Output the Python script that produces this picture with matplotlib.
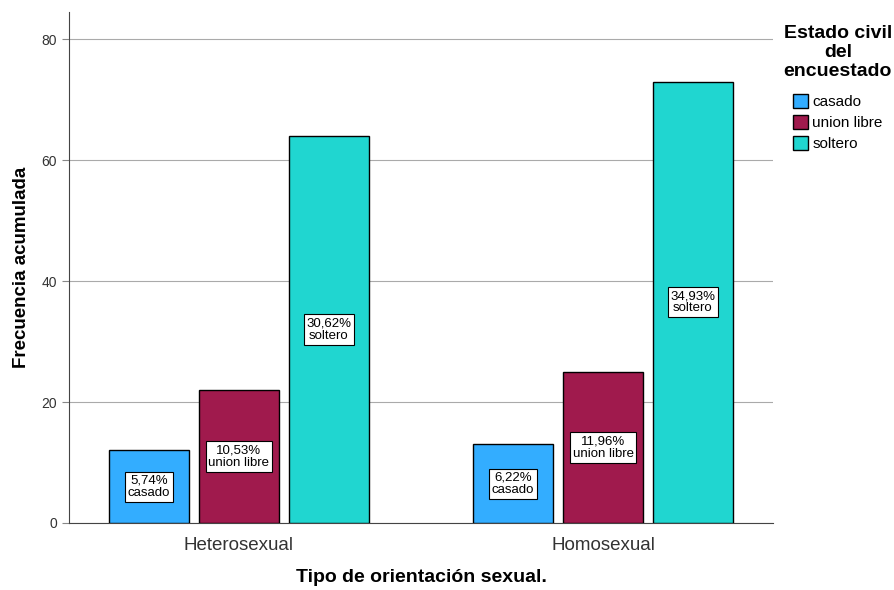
import numpy as np
import matplotlib.pyplot as plt

plt.rcParams["font.family"] = ["Liberation Sans", "DejaVu Sans"]

groups = ["Heterosexual", "Homosexual"]
series = ["casado", "union libre", "soltero"]
casado = [12, 13]
union_libre = [22, 25]
soltero = [64, 73]
pct_labels = [["5,74%", "6,22%"], ["10,53%", "11,96%"], ["30,62%", "34,93%"]]
colors = ["#33adff", "#a01a4d", "#20d6d0"]

values = [casado, union_libre, soltero]

fig = plt.figure(figsize=(8.94, 5.90), dpi=100)
ax = fig.add_axes([69 / 894, 1 - 523 / 590, (773 - 69) / 894, (523 - 12) / 590])

x = np.arange(len(groups))
width = 0.22
step = 0.247
for i, (name, vals) in enumerate(zip(series, values)):
    pos = x + (i - 1) * step
    ax.bar(pos, vals, width=width, color=colors[i], edgecolor="black",
           linewidth=1, label=name, zorder=3)
    for p, v, lab in zip(pos, vals, pct_labels[i]):
        ax.text(p, v / 2, lab + "\n" + name, ha="center", va="center",
                fontsize=9.5, linespacing=1.05, zorder=4,
                bbox=dict(boxstyle="square,pad=0.22", fc="white", ec="black", lw=0.8))

ax.set_xlim(-0.467, 1.467)
ax.set_ylim(0, 84.5)
ax.set_yticks([0, 20, 40, 60, 80])
ax.set_xticks(x)
ax.set_xticklabels(groups, fontsize=13.5, color="#333333")
ax.tick_params(axis="y", labelsize=10, colors="#333333", length=5, color="#888888")
ax.tick_params(axis="x", length=0, pad=10)
ax.grid(axis="y", color="#aaaaaa", linewidth=0.8, zorder=0)
ax.spines["top"].set_visible(False)
ax.spines["right"].set_visible(False)
ax.spines["left"].set_color("#444444")
ax.spines["bottom"].set_color("#444444")

ax.set_ylabel("Frecuencia acumulada", fontsize=13.5, fontweight="bold", labelpad=8)
ax.set_xlabel("Tipo de orientación sexual.", fontsize=14, fontweight="bold", labelpad=11)

leg = ax.legend(loc="upper left", bbox_to_anchor=(1.0, 0.995), frameon=False,
                title="Estado civil\ndel\nencuestado", fontsize=11,
                handlelength=1.0, handleheight=1.0, handletextpad=0.25,
                labelspacing=0.4, borderaxespad=0.3)
leg.get_title().set_fontweight("bold")
leg.get_title().set_fontsize(14)
leg.get_title().set_multialignment("center")
leg.get_title().set_linespacing(1.15)
leg._legend_box.sep = 10

fig.savefig("out.png", dpi=100)
